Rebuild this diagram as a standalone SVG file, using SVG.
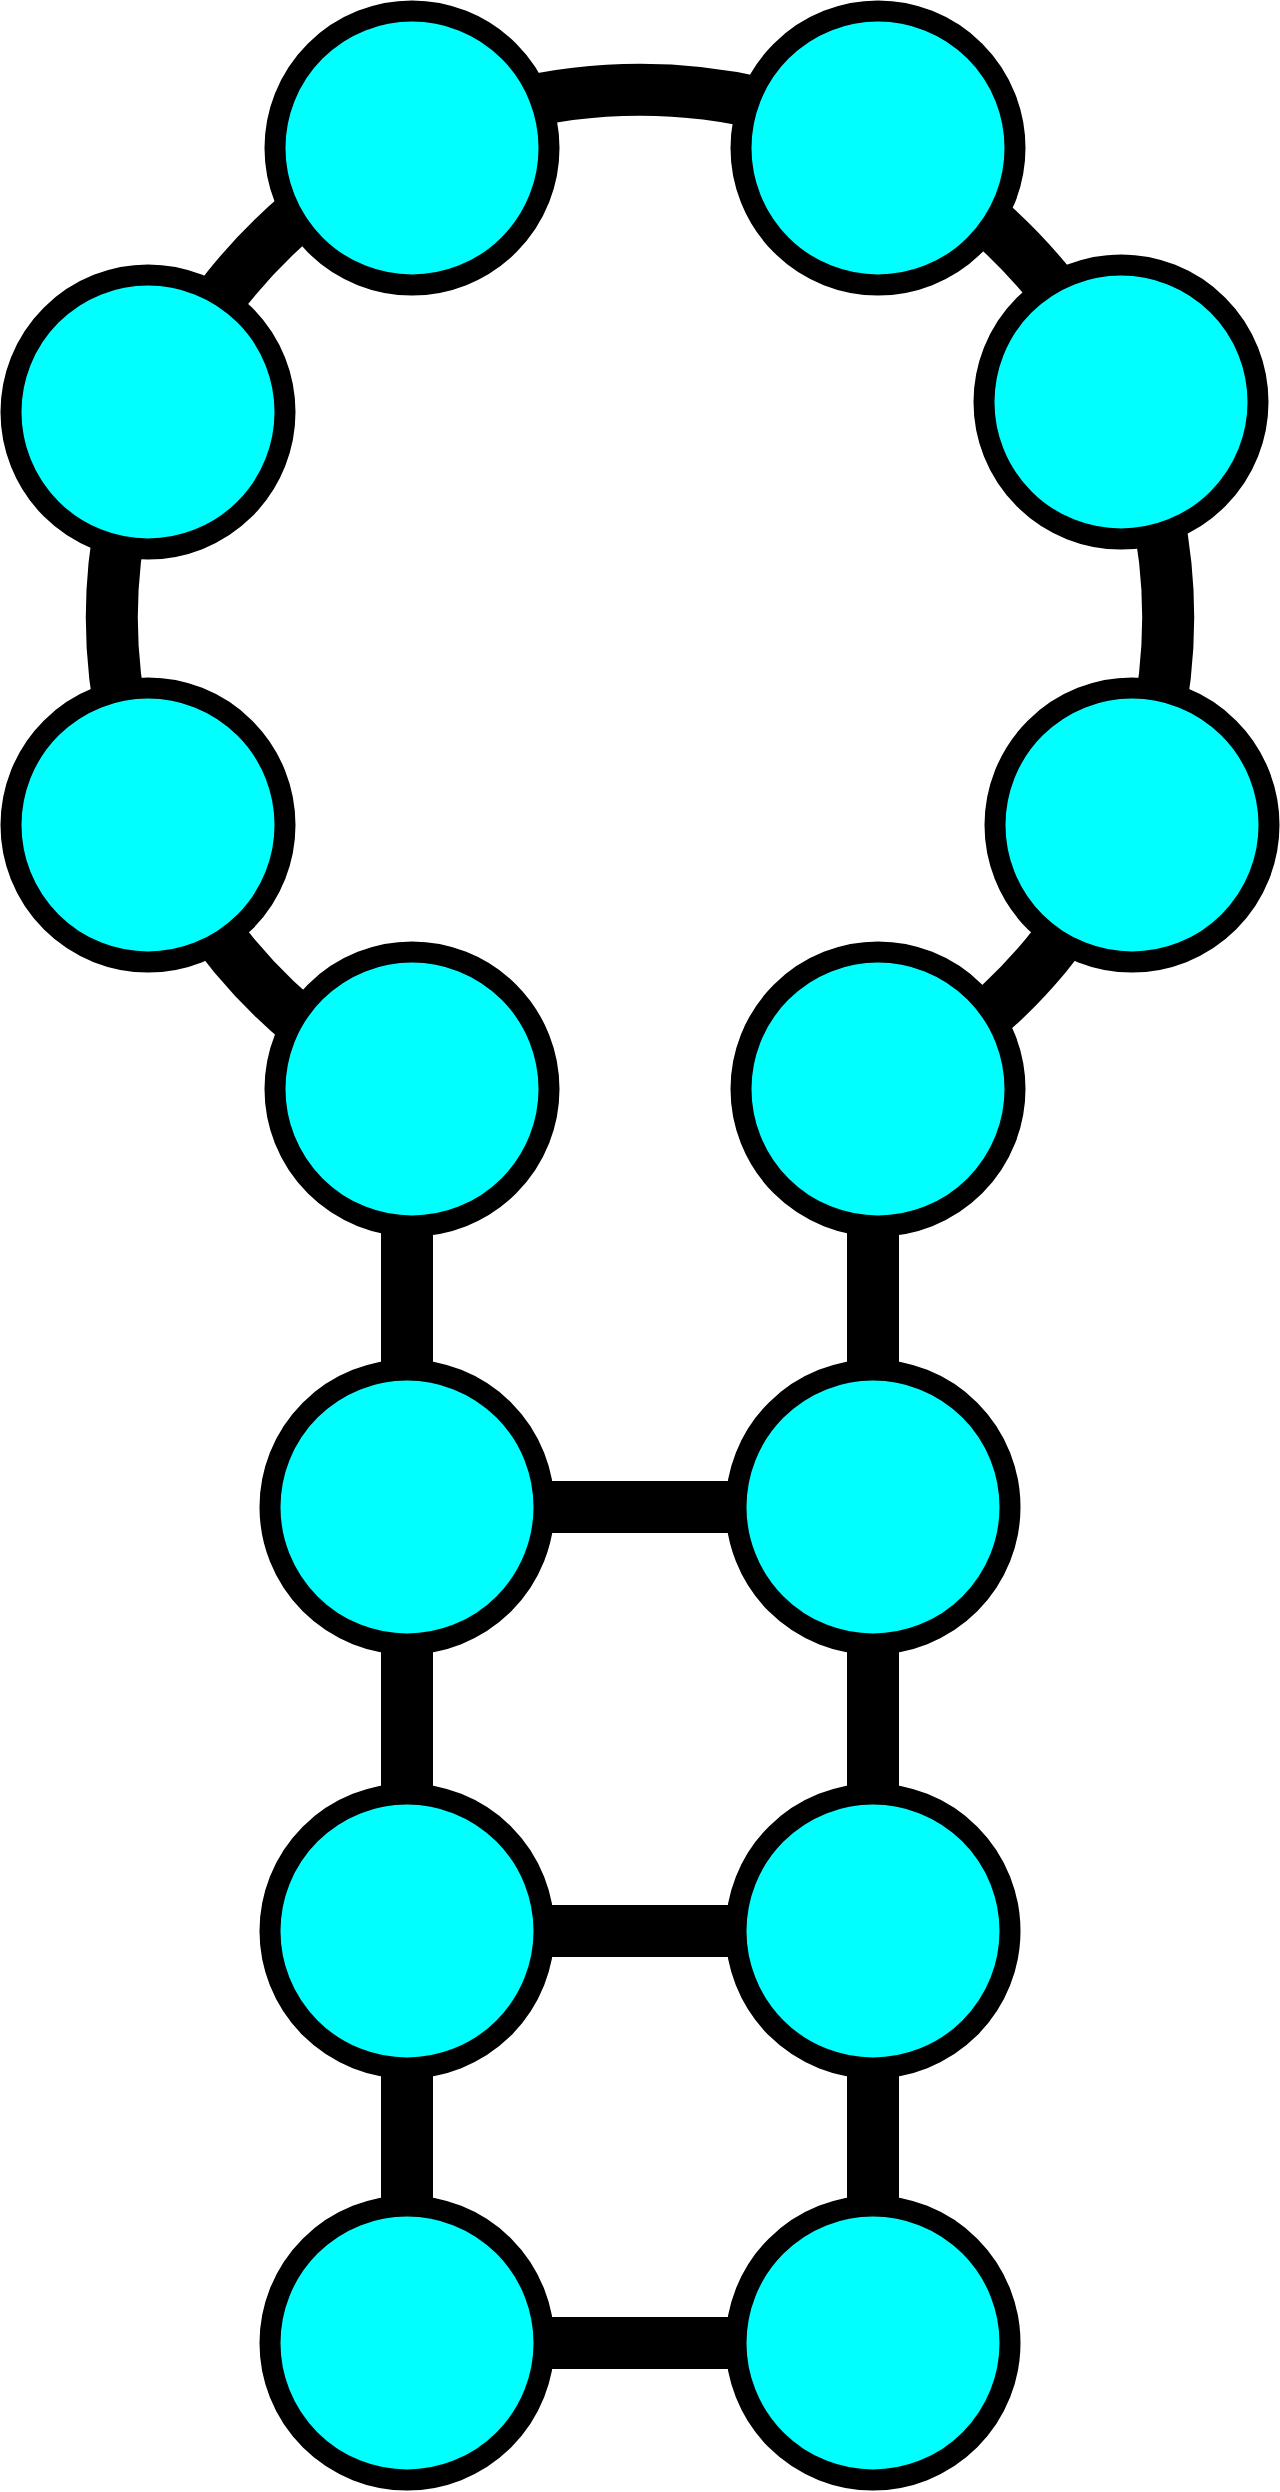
<svg xmlns="http://www.w3.org/2000/svg" width="1280" height="2492" viewBox="0 0 1280 2492">
<style>
.edge{fill:none;stroke:#000;stroke-width:52}
.node circle{fill:#00ffff;stroke:#000;stroke-width:21}
</style>
<rect width="1280" height="2492" fill="#fff"/>
<g id="edges">
<path class="edge" d="M 410 1093 A 528 528 0 1 1 870 1093"/>
<line class="edge" x1="407" y1="1089" x2="407" y2="1507"/>
<line class="edge" x1="873" y1="1089" x2="873" y2="1507"/>
<line class="edge" x1="407" y1="1507" x2="873" y2="1507"/>
<line class="edge" x1="407" y1="1507" x2="407" y2="1931"/>
<line class="edge" x1="873" y1="1507" x2="873" y2="1931"/>
<line class="edge" x1="407" y1="1931" x2="873" y2="1931"/>
<line class="edge" x1="407" y1="1931" x2="407" y2="2343"/>
<line class="edge" x1="873" y1="1931" x2="873" y2="2343"/>
<line class="edge" x1="407" y1="2343" x2="873" y2="2343"/>
</g>
<g id="n1" class="node"><circle cx="412" cy="148" r="137"/></g>
<g id="n2" class="node"><circle cx="878" cy="148" r="137"/></g>
<g id="n3" class="node"><circle cx="148" cy="412" r="137"/></g>
<g id="n4" class="node"><circle cx="1121" cy="402" r="137"/></g>
<g id="n5" class="node"><circle cx="148" cy="825" r="137"/></g>
<g id="n6" class="node"><circle cx="1132" cy="825" r="137"/></g>
<g id="n7" class="node"><circle cx="412" cy="1089" r="137"/></g>
<g id="n8" class="node"><circle cx="878" cy="1089" r="137"/></g>
<g id="n9" class="node"><circle cx="407" cy="1507" r="137"/></g>
<g id="n10" class="node"><circle cx="873" cy="1507" r="137"/></g>
<g id="n11" class="node"><circle cx="407" cy="1931" r="137"/></g>
<g id="n12" class="node"><circle cx="873" cy="1931" r="137"/></g>
<g id="n13" class="node"><circle cx="407" cy="2343" r="137"/></g>
<g id="n14" class="node"><circle cx="873" cy="2343" r="137"/></g>
</svg>
